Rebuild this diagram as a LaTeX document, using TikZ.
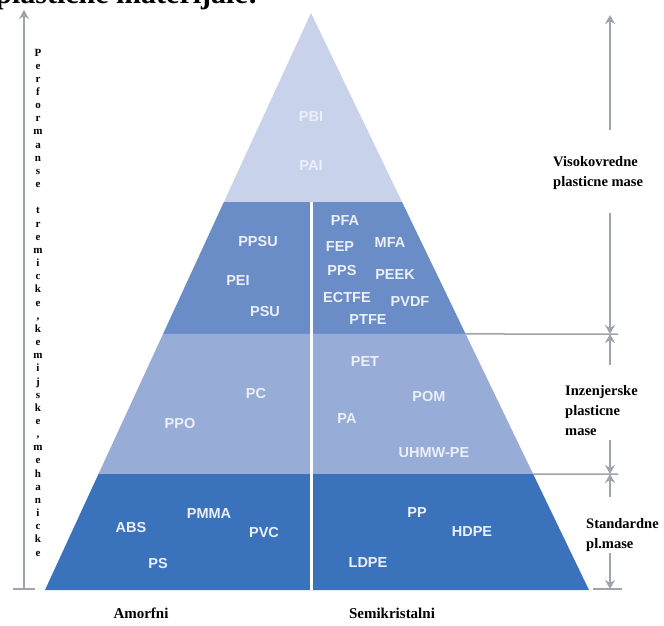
\documentclass[tikz,border=0pt]{standalone}
\usepackage{fontspec}
\setmainfont{Liberation Serif}
\setsansfont{Liberation Sans}
\usepackage{xcolor}
\usetikzlibrary{arrows.meta, positioning, calc}

\definecolor{bandtop}{RGB}{200,210,235}
\definecolor{bandhigh}{RGB}{106,141,200}
\definecolor{bandeng}{RGB}{152,172,216}
\definecolor{bandstd}{RGB}{58,115,187}
\definecolor{matwhite}{RGB}{236,239,247}
\definecolor{arrgray}{RGB}{158,163,172}

\begin{document}
\begin{tikzpicture}[x=1pt, y=-1pt,
    mat/.style={font=\sffamily\bfseries\fontsize{14.5}{14.5}\selectfont, text=matwhite, inner sep=0pt},
    lvl/.style={font=\bfseries\fontsize{14.5}{20}\selectfont, align=left, inner sep=0pt, anchor=west},
    axl/.style={font=\bfseries\fontsize{15}{15}\selectfont, inner sep=0pt},
    vchar/.style={font=\bfseries\fontsize{11}{11}\selectfont, inner sep=0pt, anchor=base},
    head/.style={font=\bfseries\fontsize{30}{30}\selectfont, inner sep=0pt},
    arr/.style={draw=arrgray, line width=2.5pt, -{Stealth[length=9pt, width=10pt]}},
    tick/.style={draw=arrgray, line width=1.5pt},
    divider/.style={draw=white, line width=3pt}
]
\useasboundingbox (0,0) rectangle (664,625);
\clip (0,0) rectangle (664,625);

% pyramid corners
\coordinate (apex) at (311,13);
\coordinate (BL) at (45,590);
\coordinate (BR) at (589,590);
\coordinate (l1) at ($(apex)!0.3276!(BL)$);
\coordinate (r1) at ($(apex)!0.3276!(BR)$);
\coordinate (l2) at ($(apex)!0.5563!(BL)$);
\coordinate (r2) at ($(apex)!0.5563!(BR)$);
\coordinate (l3) at ($(apex)!0.799!(BL)$);
\coordinate (r3) at ($(apex)!0.799!(BR)$);

\fill[bandtop] (apex) -- (l1) -- (r1) -- cycle;
\fill[bandhigh] (l1) -- (l2) -- (r2) -- (r1) -- cycle;
\fill[bandeng] (l2) -- (l3) -- (r3) -- (r2) -- cycle;
\fill[bandstd] (l3) -- (BL) -- (BR) -- (r3) -- cycle;
\draw[divider] (apex |- l1) -- (apex |- BL);

\node[head, anchor=base east] (naslov) at (258,3) {plasticne materijale:};

% materials
\node[mat] (pbi) at (311,117) {PBI};
\node[mat] (pai) at (311,166) {PAI};
\node[mat] (ppsu) at (258,242) {PPSU};
\node[mat] (pei) at (238,281) {PEI};
\node[mat] (psu) at (265,311) {PSU};
\node[mat] (pfa) at (345,221) {PFA};
\node[mat] (fep) at (340,247) {FEP};
\node[mat] (mfa) at (390,243) {MFA};
\node[mat] (pps) at (342,270) {PPS};
\node[mat] (peek) at (395,275) {PEEK};
\node[mat] (ectfe) at (347,298) {ECTFE};
\node[mat] (pvdf) at (410,302) {PVDF};
\node[mat] (ptfe) at (368,320) {PTFE};
\node[mat] (pet) at (365,362) {PET};
\node[mat] (pc) at (256,393) {PC};
\node[mat] (pom) at (429,396) {POM};
\node[mat] (ppo) at (180,423) {PPO};
\node[mat] (pa) at (347,419) {PA};
\node[mat] (uhmw) at (434,453) {UHMW-PE};
\node[mat] (abs) at (131,527) {ABS};
\node[mat] (pmma) at (209,514) {PMMA};
\node[mat] (pvc) at (264,532) {PVC};
\node[mat] (ps) at (158,563) {PS};
\node[mat] (pp) at (417,513) {PP};
\node[mat] (hdpe) at (472,532) {HDPE};
\node[mat] (ldpe) at (368,563) {LDPE};

\node[axl] (amorf) at (141,613) {Amorfni};
\node[axl] (semi) at (392,613) {Semikristalni};

% left axis
\coordinate (lTop) at (24,10);
\coordinate (lBot) at (24,589);
\draw[arr] (lBot) -- (lTop);
\draw[tick] ($(lBot)+(-11,0)$) -- ($(lBot)+(11,0)$);
\foreach \ch [count=\i from 0] in {P,e,r,f,o,r,m,a,n,s,e,{},t,r,e,m,i,c,k,e,{,},k,e,m,i,j,s,k,e,{,},m,e,h,a,n,i,c,k,e}
  \node[vchar] (perf\i) at (38,{56+13.16*\i}) {\ch};

% right levels
\node[lvl] (visoko) at (553,173) {Visokovredne\\plasticne mase};
\node[lvl] (inzenj) at (565,411) {Inzenjerske\\plasticne\\mase};
\node[lvl] (standard) at (586,535) {Standardne\\pl.mase};

\coordinate (vTop) at (610,15);
\coordinate (vMid) at (610,334);
\coordinate (vLow) at (610,474);
\coordinate (vBot) at (610,589);
\coordinate (vA) at (610,130);
\coordinate (vB) at (610,213);
\coordinate (vC) at (610,365);
\coordinate (vD) at (610,440);
\coordinate (vE) at (610,497);
\coordinate (vF) at (610,553);

\draw[arr] (vA) -- (vTop);
\draw[arr] (vB) -- (vMid);
\draw[arr] (vC) -- (vMid);
\draw[arr] (vD) -- (vLow);
\draw[arr] (vE) -- (vLow);
\draw[arr] (vF) -- (vBot);
\draw[tick] (r2) -- ($(vMid)+(8,0)$);
\draw[tick] (r3) -- ($(vLow)+(8,0)$);
\draw[tick] ($(vBot)+(-17,0)$) -- ($(vBot)+(12,0)$);
\end{tikzpicture}
\end{document}
